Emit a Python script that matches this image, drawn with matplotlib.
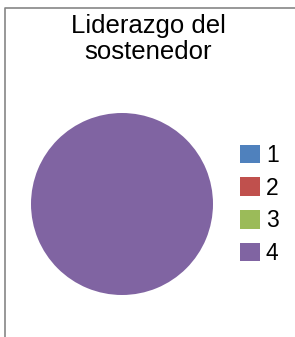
import matplotlib.pyplot as plt
from matplotlib.lines import Line2D

plt.rcParams['font.family'] = ['Liberation Sans', 'DejaVu Sans']

title = "Liderazgo del\nsostenedor"
categories = ["1", "2", "3", "4"]
values = [0, 0, 0, 1]
colors = ["#4F81BD", "#C0504D", "#9BBB59", "#8064A2"]

fig = plt.figure(figsize=(2.95, 3.37), dpi=100)

ax = fig.add_axes([31 / 295, 42 / 337, 182 / 295, 182 / 337])
wedges, _ = ax.pie(values, colors=colors, startangle=90, counterclock=False,
                   wedgeprops=dict(linewidth=0))
ax.set_xlim(-1, 1)
ax.set_ylim(-1, 1)
ax.set_aspect('equal')

fig.text(148 / 295, 1 - 39 / 337, title, ha='center', va='center',
         fontsize=18.5, linespacing=1.1)

fig.legend(wedges, categories, loc='upper left', bbox_to_anchor=(240 / 295, 1 - 144 / 337),
           frameon=False, fontsize=16.5, handlelength=0.88, handleheight=0.88,
           labelspacing=0.42, handletextpad=0.25, borderpad=0, borderaxespad=0)

# chart area frame (top and left edges visible)
fig.add_artist(Line2D([4.5 / 295, 4.5 / 295, 1], [0, 1 - 7.5 / 337, 1 - 7.5 / 337],
                      transform=fig.transFigure, color="#868686", linewidth=1.2))

fig.savefig("out.png", dpi=100)
